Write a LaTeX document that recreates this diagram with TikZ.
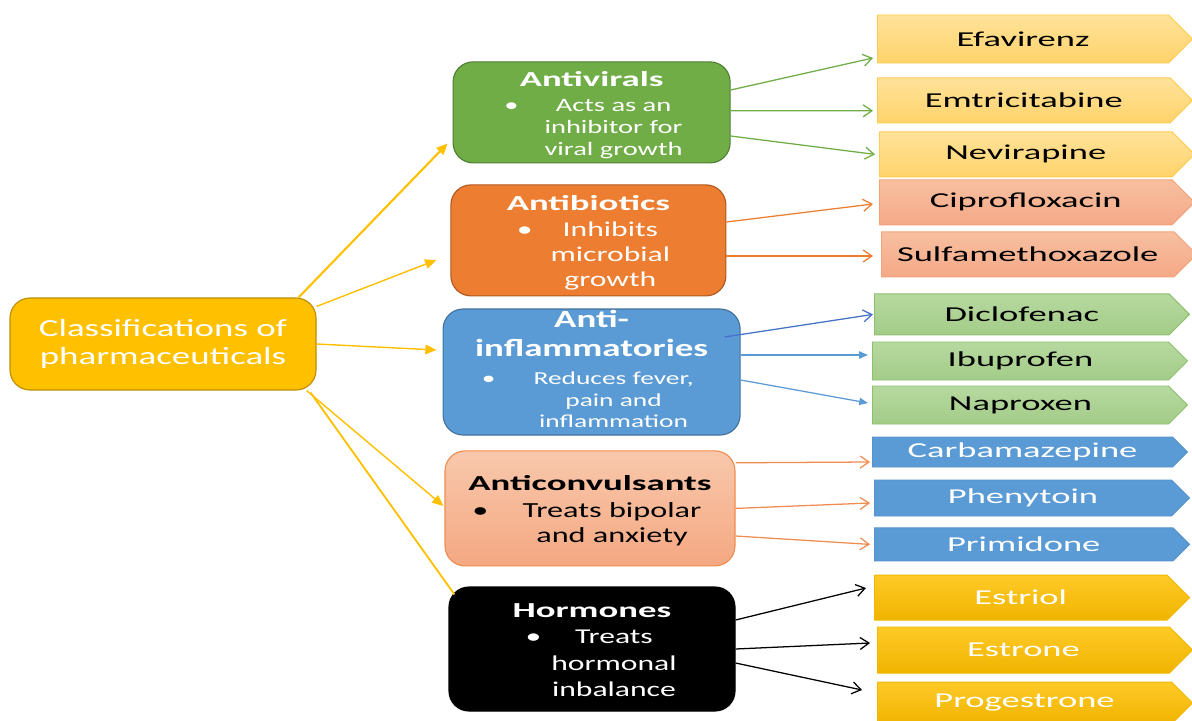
\documentclass[tikz,border=0pt]{standalone}
\usepackage{fontspec}
\setmainfont{Carlito}[FakeStretch=1.5]
\newfontfamily\widefont{Carlito}[FakeStretch=1.72]
\usepackage{tikz}
\usetikzlibrary{shapes.symbols, arrows.meta, positioning, calc}
\definecolor{rootfill}{RGB}{255,192,0}
\definecolor{rootdraw}{RGB}{188,140,0}
\definecolor{gvfill}{RGB}{112,173,71}
\definecolor{gvdraw}{RGB}{80,126,50}
\definecolor{abfill}{RGB}{237,125,49}
\definecolor{abdraw}{RGB}{174,90,33}
\definecolor{aifill}{RGB}{91,155,213}
\definecolor{aidraw}{RGB}{65,113,156}
\definecolor{aidark}{RGB}{68,114,196}
\definecolor{actop}{RGB}{248,200,172}
\definecolor{acbot}{RGB}{244,168,130}
\definecolor{acdraw}{RGB}{240,140,80}
\definecolor{yeltop}{RGB}{255,226,154}
\definecolor{yelbot}{RGB}{255,211,107}
\definecolor{yeldraw}{RGB}{255,204,77}
\definecolor{saltop}{RGB}{247,191,160}
\definecolor{salbot}{RGB}{244,169,135}
\definecolor{saldraw}{RGB}{243,162,122}
\definecolor{grntop}{RGB}{183,217,160}
\definecolor{grnbot}{RGB}{163,204,136}
\definecolor{grndraw}{RGB}{141,192,110}
\definecolor{bludraw}{RGB}{85,146,204}
\definecolor{goldtop}{RGB}{255,202,40}
\definecolor{goldbot}{RGB}{240,180,0}
\definecolor{golddraw}{RGB}{242,184,0}
\newcommand{\rootfont}{\fontsize{17.5}{20}\selectfont}
\newcommand{\cattitle}{\widefont\fontsize{15.2}{17}\selectfont\bfseries\rule{0pt}{17pt}}
\newcommand{\bigtitle}{\fontsize{17.5}{20}\selectfont\bfseries}
\newcommand{\catbody}[2]{\fontsize{#1}{#2}\selectfont}
\newcommand{\drugfont}{\widefont\fontsize{15.1}{18}\selectfont}
\newcommand{\catitem}[2]{\hspace*{1.1cm}\llap{\textbullet\hspace{#1}}\begin{tabular}[t]{@{}c@{}}#2\end{tabular}}
\tikzset{
  rootbox/.style={rectangle, rounded corners=0.5cm, fill=rootfill, draw=rootdraw,
    line width=0.8pt, text=white, align=center, font=\rootfont,
    minimum width=7.65cm, minimum height=2.3cm},
  catbox/.style={rectangle, rounded corners=0.5cm, align=center,
    line width=0.8pt, inner xsep=2pt, inner ysep=0pt},
  drug/.style={signal, signal to=east, signal pointer angle=90, anchor=west,
    inner sep=0pt, line width=0.7pt, font=\drugfont, minimum width=7.875cm},
  rootarrow/.style={-{Triangle[length=0.28cm,width=0.24cm]}, color=rootfill, line width=1pt},
  openarrow/.style={-{Straight Barb[length=0.22cm,width=0.3cm]}, line width=0.9pt},
  fillarrow/.style={-{Triangle[length=0.22cm,width=0.18cm]}, line width=0.9pt}
}
\begin{document}
\begin{tikzpicture}[>=Stealth]
  \useasboundingbox (0,0) rectangle (29.8,18);

  % Root node on the left
  \node[rootbox] (root) at (4.075, 9.4) {Classifications of\\pharmaceuticals};

  % Classes in the middle column
  \node[catbox, fill=gvfill, draw=gvdraw, text=white, font={\catbody{13.5}{15.6}},
    minimum width=6.925cm, minimum height=2.525cm]
    (antiv) at (14.79, 15.19) {{\cattitle Antivirals}\\[2pt]\catitem{0.65cm}{Acts as an\\inhibitor for\\viral growth}};
  \node[catbox, fill=abfill, draw=abdraw, text=white, font={\catbody{15}{17.8}},
    minimum width=6.875cm, minimum height=2.775cm]
    (antib) at (14.71, 11.99) {{\cattitle Antibiotics}\\[1pt]\catitem{0.45cm}{Inhibits\\microbial\\growth}};
  \node[catbox, fill=aifill, draw=aidraw, text=white, font={\catbody{13}{15}},
    minimum width=7.425cm, minimum height=3.15cm]
    (antii) at (14.79, 8.7) {{\bigtitle Anti-}\\[5.6pt]{\bigtitle inflammatories}\\[5pt]\catitem{0.95cm}{Reduces fever,\\pain and\\inflammation}};
  \node[catbox, top color=actop, bottom color=acbot, draw=acdraw, text=black, font={\catbody{15.3}{17.8}},
    minimum width=7.25cm, minimum height=2.875cm]
    (antic) at (14.75, 5.29) {{\cattitle Anticonvulsants}\\[1pt]\catitem{0.85cm}{Treats bipolar\\and anxiety}};
  \node[catbox, fill=black, draw=black, text=white, font={\catbody{15}{18.8}},
    minimum width=7.15cm, minimum height=3.1cm]
    (horm) at (14.8, 1.775) {{\cattitle Hormones}\\\catitem{0.25cm}{Treats\\hormonal\\inbalance}};

  % Drugs on the right
  \node[drug, top color=yeltop, bottom color=yelbot, draw=yeldraw, minimum height=1.2cm] (efav) at (21.925, 17.025) {Efavirenz};
  \node[drug, top color=yeltop, bottom color=yelbot, draw=yeldraw, minimum height=1.125cm] (emtri) at (21.925, 15.49) {Emtricitabine};
  \node[drug, top color=yeltop, bottom color=yelbot, draw=yeldraw, minimum height=1.125cm] (nevi) at (21.975, 14.14) {Nevirapine};
  \node[drug, top color=saltop, bottom color=salbot, draw=saldraw, minimum height=1.125cm] (cipro) at (21.975, 12.94) {Ciprofloxacin};
  \node[drug, top color=saltop, bottom color=salbot, draw=saldraw, minimum height=1.125cm] (sulfa) at (22.025, 11.64) {Sulfamethoxazole};
  \node[drug, top color=grntop, bottom color=grnbot, draw=grndraw, minimum height=1.025cm] (diclo) at (21.85, 10.14) {Diclofenac};
  \node[drug, top color=grntop, bottom color=grnbot, draw=grndraw, minimum height=0.95cm] (ibu) at (21.8, 8.975) {Ibuprofen};
  \node[drug, top color=grntop, bottom color=grnbot, draw=grndraw, minimum height=0.95cm] (napro) at (21.8, 7.875) {Naproxen};
  \node[drug, fill=aifill, draw=bludraw, text=white, minimum height=0.75cm] (carba) at (21.8, 6.7) {Carbamazepine};
  \node[drug, fill=aifill, draw=bludraw, text=white, minimum height=0.9cm] (pheny) at (21.85, 5.55) {Phenytoin};
  \node[drug, fill=aifill, draw=bludraw, text=white, minimum height=0.825cm] (primi) at (21.85, 4.39) {Primidone};
  \node[drug, top color=goldtop, bottom color=goldbot, draw=golddraw, text=white, minimum height=1.125cm] (estriol) at (21.85, 3.06) {Estriol};
  \node[drug, top color=goldtop, bottom color=goldbot, draw=golddraw, text=white, minimum height=1.15cm] (estrone) at (21.925, 1.75) {Estrone};
  \node[drug, top color=goldtop, bottom color=goldbot, draw=golddraw, text=white, minimum height=1.05cm] (proges) at (21.925, 0.425) {Progestrone};

  % Root to classes
  \draw[rootarrow, line width=1.5pt] ([xshift=-0.45cm]root.north east) -- ([xshift=-0.125cm, yshift=0.5cm]antiv.south west);
  \draw[rootarrow] ([yshift=-0.225cm]root.north east) -- ([xshift=-0.35cm, yshift=-0.49cm]antib.west);
  \draw[rootarrow] (root.east) -- ([xshift=-0.15cm, yshift=0.55cm]antii.west);
  \draw[rootarrow] ([xshift=-0.25cm]root.south east) -- ([xshift=-0.025cm, yshift=0.06cm]antic.west);
  \draw[color=rootfill, line width=1.3pt] ([xshift=-0.15cm, yshift=-0.05cm]root.south east) -- ([xshift=0.15cm, yshift=-0.2cm]horm.north west);

  % Antivirals to drugs
  \draw[openarrow, gvfill] ([yshift=0.56cm]antiv.east) -- ([xshift=-0.1cm, yshift=-0.475cm]efav.west);
  \draw[openarrow, gvfill] ([yshift=0.04cm]antiv.east) -- ([xshift=-0.1cm, yshift=-0.26cm]emtri.west);
  \draw[openarrow, gvfill] ([yshift=-0.59cm]antiv.east) -- ([xshift=-0.1cm]nevi.west);

  % Antibiotics to drugs
  \draw[openarrow, abfill] ([yshift=0.46cm]antib.east) -- ([xshift=-0.15cm, yshift=-0.04cm]cipro.west);
  \draw[openarrow, abfill] ([yshift=-0.39cm]antib.east) -- ([xshift=-0.2cm, yshift=-0.04cm]sulfa.west);

  % Anti-inflammatories to drugs
  \draw[openarrow, aidark] ([xshift=-0.4cm, yshift=0.875cm]antii.east) -- ([xshift=-0.025cm]diclo.west);
  \draw[fillarrow, aifill] ([yshift=0.425cm]antii.east) -- ([xshift=-0.1cm, yshift=0.15cm]ibu.west);
  \draw[fillarrow, aifill] ([yshift=-0.2cm]antii.east) -- ([xshift=-0.1cm, yshift=0.05cm]napro.west);

  % Anticonvulsants to drugs
  \draw[openarrow, acdraw] ([yshift=1.14cm]antic.east) -- ([xshift=-0.05cm, yshift=-0.25cm]carba.west);
  \draw[openarrow, acdraw] (antic.east) -- ([xshift=-0.1cm, yshift=-0.125cm]pheny.west);
  \draw[openarrow, acdraw] ([yshift=-0.69cm]antic.east) -- ([xshift=-0.1cm]primi.west);

  % Hormones to drugs
  \draw[openarrow, black] ([yshift=0.725cm]horm.east) -- ([xshift=-0.2cm, yshift=0.24cm]estriol.west);
  \draw[openarrow, black] (horm.east) -- ([xshift=-0.175cm, yshift=0.175cm]estrone.west);
  \draw[openarrow, black] ([yshift=-0.35cm]horm.east) -- ([xshift=-0.375cm, yshift=0.325cm]proges.west);
\end{tikzpicture}
\end{document}
